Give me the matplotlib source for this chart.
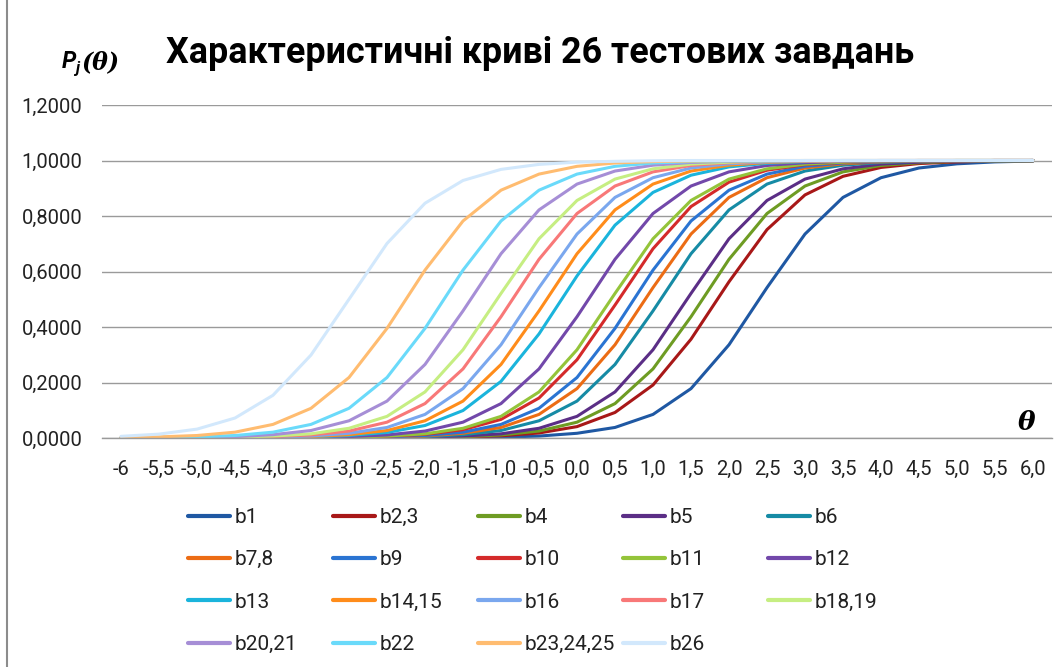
import matplotlib
matplotlib.use('Agg')
import matplotlib.pyplot as plt
from matplotlib import font_manager
from matplotlib.lines import Line2D

# theta categories
theta_labels = ['-6', '-5,5', '-5,0', '-4,5', '-4,0', '-3,5', '-3,0', '-2,5', '-2,0',
                '-1,5', '-1,0', '-0,5', '0,0', '0,5', '1,0', '1,5', '2,0', '2,5',
                '3,0', '3,5', '4,0', '4,5', '5,0', '5,5', '6,0']

# item characteristic curves
b1 = [0, 0, 0, 0, 0, 0, 0, 0, 0.001, 0.001, 0.003, 0.007, 0.017, 0.038, 0.085, 0.178,
      0.336, 0.542, 0.735, 0.867, 0.938, 0.973, 0.988, 0.995, 0.998]
b2_3 = [0, 0, 0, 0, 0, 0, 0, 0.001, 0.001, 0.003, 0.008, 0.018, 0.041, 0.092, 0.191, 0.356,
        0.563, 0.751, 0.876, 0.943, 0.975, 0.989, 0.995, 0.998, 0.999]
b4 = [0, 0, 0, 0, 0, 0, 0, 0.001, 0.002, 0.005, 0.011, 0.025, 0.057, 0.124, 0.249, 0.437,
      0.644, 0.809, 0.908, 0.959, 0.982, 0.992, 0.997, 0.998, 0.999]
b5 = [0, 0, 0, 0, 0, 0, 0.001, 0.001, 0.003, 0.007, 0.015, 0.035, 0.078, 0.166, 0.318, 0.521,
      0.718, 0.856, 0.933, 0.970, 0.987, 0.994, 0.998, 0.999, 1.000]
b6 = [0, 0, 0, 0, 0, 0, 0.001, 0.002, 0.005, 0.012, 0.027, 0.062, 0.133, 0.265, 0.458, 0.664,
      0.822, 0.915, 0.962, 0.983, 0.993, 0.997, 0.999, 0.999, 1.000]
b7_8 = [0, 0, 0, 0, 0, 0.001, 0.001, 0.003, 0.007, 0.017, 0.038, 0.085, 0.178, 0.336, 0.542, 0.735,
        0.867, 0.938, 0.973, 0.988, 0.995, 0.998, 0.999, 1.000, 1.000]
b9 = [0, 0, 0, 0, 0, 0.001, 0.002, 0.004, 0.009, 0.021, 0.049, 0.107, 0.218, 0.395, 0.605, 0.782,
      0.893, 0.951, 0.979, 0.991, 0.996, 0.998, 0.999, 1.000, 1.000]
b10 = [0, 0, 0, 0, 0, 0.001, 0.002, 0.006, 0.013, 0.030, 0.067, 0.144, 0.282, 0.479, 0.682, 0.834,
       0.922, 0.965, 0.985, 0.993, 0.997, 0.999, 0.999, 1.000, 1.000]
b11 = [0, 0, 0, 0, 0.001, 0.001, 0.003, 0.007, 0.015, 0.035, 0.078, 0.166, 0.318, 0.521, 0.718, 0.856,
       0.933, 0.970, 0.987, 0.994, 0.998, 0.999, 1.000, 1.000, 1.000]
b12 = [0, 0, 0, 0, 0.001, 0.002, 0.005, 0.011, 0.025, 0.057, 0.124, 0.249, 0.437, 0.644, 0.809, 0.908,
       0.959, 0.982, 0.992, 0.997, 0.998, 0.999, 1.000, 1.000, 1.000]
b13 = [0, 0, 0, 0.001, 0.002, 0.004, 0.009, 0.020, 0.045, 0.099, 0.204, 0.375, 0.584, 0.767, 0.885, 0.947,
       0.977, 0.990, 0.996, 0.998, 0.999, 1.000, 1.000, 1.000, 1.000]
b14_15 = [0, 0, 0, 0.001, 0.002, 0.005, 0.012, 0.027, 0.062, 0.133, 0.265, 0.458, 0.664, 0.822, 0.915, 0.962,
          0.983, 0.993, 0.997, 0.999, 0.999, 1.000, 1.000, 1.000, 1.000]
b16 = [0, 0, 0.001, 0.001, 0.003, 0.007, 0.017, 0.038, 0.085, 0.178, 0.336, 0.542, 0.735, 0.867, 0.938, 0.973,
       0.988, 0.995, 0.998, 0.999, 1.000, 1.000, 1.000, 1.000, 1.000]
b17 = [0, 0, 0.001, 0.002, 0.005, 0.011, 0.025, 0.057, 0.124, 0.249, 0.437, 0.644, 0.809, 0.908, 0.959, 0.982,
       0.992, 0.997, 0.998, 0.999, 1.000, 1.000, 1.000, 1.000, 1.000]
b18_19 = [0, 0.001, 0.001, 0.003, 0.007, 0.015, 0.035, 0.078, 0.166, 0.318, 0.521, 0.718, 0.856, 0.933, 0.970, 0.987,
          0.994, 0.998, 0.999, 1.000, 1.000, 1.000, 1.000, 1.000, 1.000]
b20_21 = [0, 0.001, 0.002, 0.005, 0.012, 0.027, 0.062, 0.133, 0.265, 0.458, 0.664, 0.822, 0.915, 0.962, 0.983, 0.993,
          0.997, 0.999, 0.999, 1.000, 1.000, 1.000, 1.000, 1.000, 1.000]
b22 = [0.001, 0.002, 0.004, 0.009, 0.021, 0.049, 0.107, 0.218, 0.395, 0.605, 0.782, 0.893, 0.951, 0.979, 0.991, 0.996,
       0.998, 0.999, 1.000, 1.000, 1.000, 1.000, 1.000, 1.000, 1.000]
b23_25 = [0.002, 0.004, 0.009, 0.021, 0.049, 0.107, 0.218, 0.395, 0.605, 0.782, 0.893, 0.951, 0.979, 0.991, 0.996, 0.998,
          0.999, 1.000, 1.000, 1.000, 1.000, 1.000, 1.000, 1.000, 1.000]
b26 = [0.006, 0.014, 0.032, 0.072, 0.154, 0.299, 0.500, 0.701, 0.846, 0.928, 0.968, 0.986, 0.994, 0.997, 0.999, 1.000,
       1.000, 1.000, 1.000, 1.000, 1.000, 1.000, 1.000, 1.000, 1.000]

names = ['b1', 'b2,3', 'b4', 'b5', 'b6', 'b7,8', 'b9', 'b10', 'b11', 'b12',
         'b13', 'b14,15', 'b16', 'b17', 'b18,19', 'b20,21', 'b22', 'b23,24,25', 'b26']
series = [b1, b2_3, b4, b5, b6, b7_8, b9, b10, b11, b12,
          b13, b14_15, b16, b17, b18_19, b20_21, b22, b23_25, b26]
colors = ['#1F58A3', '#A81818', '#6E9C23', '#5B2E86', '#168BA5', '#EC6C14', '#2A74D2', '#D42A2A',
          '#94C43A', '#7248AA', '#1AB4DC', '#FF8C1A', '#7AA7EE', '#F87878', '#C6EE82', '#A68ED6',
          '#6ADAFA', '#FFBC70', '#D2E8FC']

plt.rcParams['font.family'] = ['Roboto', 'DejaVu Sans']
available = {f.name for f in font_manager.fontManager.ttflist}
if 'Liberation Sans Narrow' in available:
    title_font, title_size = ['Liberation Sans Narrow', 'Roboto'], 29
else:
    title_font, title_size = ['Roboto', 'DejaVu Sans'], 25.8

W, H = 1064, 667
fig = plt.figure(figsize=(W / 100, H / 100), dpi=100)
ax = fig.add_axes([102 / W, 1 - 438 / H, 950 / W, 333 / H])

x = list(range(len(theta_labels)))
handles = []
for name, vals, col in zip(names, series, colors):
    h, = ax.plot(x, vals, color=col, lw=2.2, label=name, solid_capstyle='round')
    handles.append(h)

ax.set_xlim(-0.5, len(theta_labels) - 0.5)
ax.set_ylim(0, 1.2)
ax.set_yticks([0, 0.2, 0.4, 0.6, 0.8, 1.0, 1.2])
ax.set_yticklabels(['0,0000', '0,2000', '0,4000', '0,6000', '0,8000', '1,0000', '1,2000'])
ax.set_xticks(x)
ax.set_xticklabels(theta_labels)
ax.tick_params(axis='both', length=0, labelsize=14.5, colors='#222222')
ax.tick_params(axis='y', pad=14)
ax.tick_params(axis='x', pad=16)
ax.grid(axis='y', color='#9A9A9A', lw=1.0)
ax.set_axisbelow(True)
for s in ['left', 'right', 'top']:
    ax.spines[s].set_visible(False)
ax.spines['bottom'].set_color('#9A9A9A')
ax.spines['bottom'].set_linewidth(1.0)

# titles / axis labels
fig.text(540 / W, 1 - 53 / H, 'Характеристичні криві 26 тестових завдань',
         ha='center', va='center', fontsize=title_size, fontweight='bold', family=title_font)
fig.text(62 / W, 1 - 62 / H, 'P', fontsize=16.5, fontweight='bold', style='italic',
         ha='left', va='center')
fig.text(75 / W, 1 - 69 / H, 'j', fontsize=11.5, fontweight='bold', style='italic',
         ha='left', va='center')
fig.text(82 / W, 1 - 62 / H, '(θ)', fontsize=17, fontweight='bold', style='italic',
         ha='left', va='center', family=['DejaVu Serif'])
fig.text(1027 / W, 1 - 422 / H, 'θ', fontsize=19, fontweight='bold', style='italic',
         ha='center', va='center', family=['DejaVu Serif'])

# left chart border
fig.add_artist(Line2D([7 / W, 7 / W], [0, 1], color='#8C8C8C', lw=1.5))

# legend: five evenly spaced columns, rows filled left to right
col_x = [188, 333, 478, 623, 768]
for c in range(5):
    idx = [c + 5 * r for r in range(4) if c + 5 * r < len(handles)]
    leg = fig.legend([handles[i] for i in idx], [names[i] for i in idx],
                     loc='upper left', bbox_to_anchor=(col_x[c] / W, 1 - 508 / H),
                     frameon=False, ncol=1, fontsize=15, handlelength=2.0,
                     handletextpad=0.25, labelspacing=1.12, borderpad=0, borderaxespad=0)
    for lh in leg.legend_handles:
        lh.set_linewidth(3.0)
    for t in leg.get_texts():
        t.set_color('#222222')

fig.savefig('out.png', dpi=100)
